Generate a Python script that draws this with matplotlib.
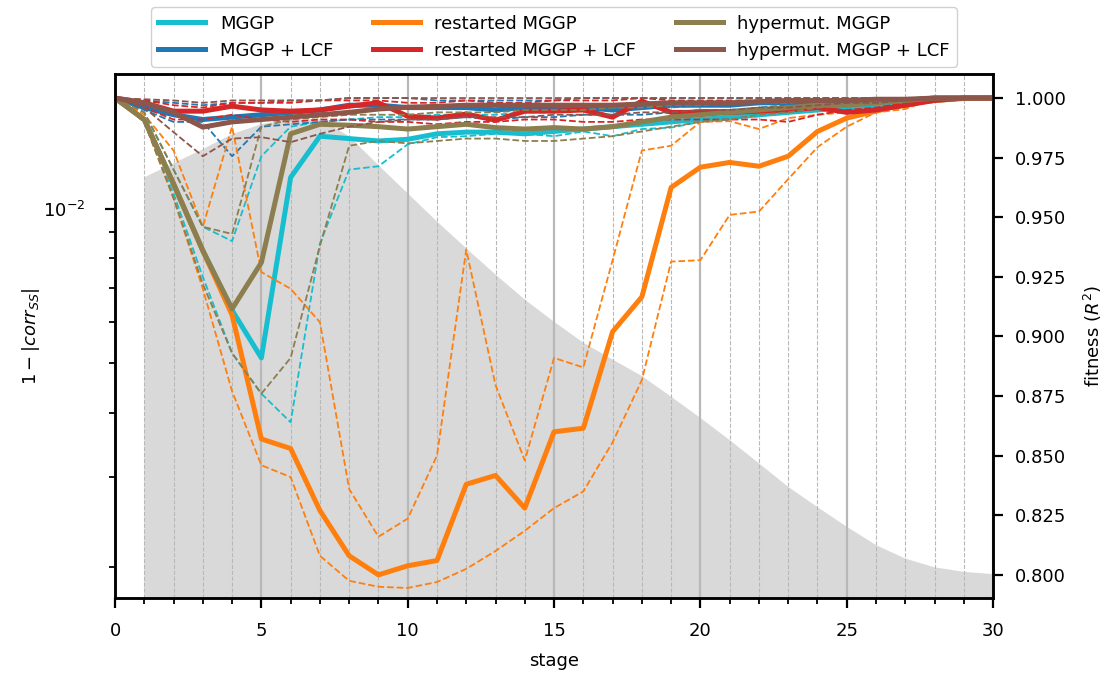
import numpy as np
import matplotlib
matplotlib.use("Agg")
import matplotlib.pyplot as plt
from matplotlib.ticker import MultipleLocator, FormatStrFormatter

plt.rcParams['font.family'] = ['DejaVu Sans']
plt.rcParams['font.size'] = 13

stages = np.arange(31)

# gray area: 1 - |corr_SS| (left, log axis), defined from stage 1 on
corr_stages = np.arange(1, 31)
corr_err = [0.01151, 0.01226, 0.01306, 0.01397, 0.01461, 0.01494, 0.01494, 0.01384,
            0.01215, 0.01071, 0.00944, 0.00837, 0.00744, 0.00665, 0.00602, 0.00548,
            0.00508, 0.00472, 0.00430, 0.00391, 0.00354, 0.00319, 0.00287, 0.00262,
            0.00240, 0.00221, 0.00208, 0.00200, 0.00196, 0.00194]

# fitness (R^2) per method: median, lower and upper quantile
mggp_med = [1.0, 0.991, 0.964, 0.936, 0.911, 0.891, 0.9667, 0.984, 0.983, 0.982, 0.9827, 0.985, 0.9857, 0.9857, 0.985, 0.986,
            0.987, 0.988, 0.989, 0.990, 0.991, 0.992, 0.993, 0.994, 0.995, 0.996, 0.997, 0.998, 0.999, 1.0, 1.0]
mggp_lo = [1.0, 0.990, 0.960, 0.925, 0.893, 0.876, 0.864, 0.939, 0.970, 0.9714, 0.9806, 0.9836, 0.984, 0.985, 0.985, 0.984,
           0.986, 0.984, 0.987, 0.9876, 0.990, 0.991, 0.9924, 0.994, 0.996, 0.997, 0.998, 0.999, 1.0, 1.0, 1.0]
mggp_hi = [1.0, 0.994, 0.970, 0.946, 0.940, 0.9756, 0.988, 0.990, 0.991, 0.992, 0.992, 0.993, 0.993, 0.993, 0.994, 0.994,
           0.995, 0.995, 0.996, 0.996, 0.997, 0.997, 0.998, 0.998, 0.999, 0.999, 1.0, 1.0, 1.0, 1.0, 1.0]

lcf_med = [1.0, 0.996, 0.993, 0.991, 0.992, 0.993, 0.994, 0.995, 0.997, 0.997, 0.996, 0.996, 0.996, 0.995, 0.996, 0.996,
           0.996, 0.995, 0.996, 0.997, 0.997, 0.997, 0.998, 0.998, 0.998, 0.999, 0.999, 0.999, 1.0, 1.0, 1.0]
lcf_lo = [1.0, 0.995, 0.990, 0.990, 0.9756, 0.988, 0.989, 0.990, 0.991, 0.991, 0.991, 0.991, 0.992, 0.991, 0.992, 0.992,
          0.993, 0.993, 0.993, 0.994, 0.995, 0.995, 0.996, 0.997, 0.998, 0.998, 0.999, 0.999, 1.0, 1.0, 1.0]
lcf_hi = [1.0, 0.999, 0.998, 0.997, 0.998, 0.998, 0.999, 0.999, 1.0, 1.0, 1.0, 0.999, 0.999, 0.999, 0.999, 0.999,
          1.0, 1.0, 1.0, 1.0, 1.0, 1.0, 1.0, 1.0, 1.0, 1.0, 1.0, 1.0, 1.0, 1.0, 1.0]

rst_med = [1.0, 0.991, 0.964, 0.936, 0.909, 0.857, 0.853, 0.827, 0.808, 0.800, 0.8038, 0.806, 0.838, 0.8417, 0.828, 0.860,
           0.8615, 0.902, 0.9166, 0.9625, 0.971, 0.973, 0.9714, 0.9756, 0.986, 0.9916, 0.9945, 0.9975, 0.999, 0.9998, 1.0]
rst_lo = [1.0, 0.990, 0.958, 0.920, 0.877, 0.846, 0.841, 0.808, 0.7975, 0.795, 0.7945, 0.797, 0.8025, 0.810, 0.8185, 0.828,
          0.835, 0.8556, 0.8817, 0.9314, 0.932, 0.951, 0.9524, 0.966, 0.9794, 0.988, 0.994, 0.9954, 1.0, 1.0, 1.0]
rst_hi = [1.0, 0.993, 0.978, 0.946, 0.988, 0.927, 0.920, 0.906, 0.836, 0.816, 0.8236, 0.850, 0.9364, 0.8796, 0.848, 0.891,
          0.887, 0.932, 0.978, 0.980, 0.990, 0.9903, 0.987, 0.9916, 0.993, 0.994, 0.995, 0.996, 0.999, 1.0, 1.0]

rlcf_med = [1.0, 0.998, 0.9945, 0.9945, 0.9966, 0.995, 0.9945, 0.995, 0.9966, 0.998, 0.9924, 0.9916, 0.9933, 0.9907, 0.9945, 0.9945,
            0.995, 0.992, 0.9987, 0.994, 0.994, 0.994, 0.9945, 0.995, 0.996, 0.994, 0.995, 0.997, 0.999, 1.0, 1.0]
rlcf_lo = [1.0, 0.996, 0.991, 0.991, 0.993, 0.991, 0.990, 0.991, 0.991, 0.990, 0.990, 0.989, 0.990, 0.990, 0.991, 0.991,
           0.990, 0.990, 0.991, 0.991, 0.991, 0.991, 0.991, 0.990, 0.993, 0.995, 0.996, 0.998, 0.999, 1.0, 1.0]
rlcf_hi = [1.0, 0.999, 0.997, 0.996, 0.998, 0.998, 0.998, 0.999, 0.999, 0.999, 0.998, 0.998, 0.999, 0.998, 0.998, 0.999,
           0.999, 0.999, 1.0, 0.999, 0.999, 0.999, 0.999, 0.999, 0.999, 0.999, 1.0, 1.0, 1.0, 1.0, 1.0]

hyp_med = [1.0, 0.991, 0.964, 0.936, 0.9116, 0.931, 0.985, 0.989, 0.9886, 0.988, 0.987, 0.988, 0.989, 0.9876, 0.987, 0.9876,
           0.987, 0.988, 0.990, 0.992, 0.993, 0.994, 0.995, 0.996, 0.997, 0.997, 0.998, 0.999, 1.0, 1.0, 1.0]
hyp_lo = [1.0, 0.990, 0.958, 0.922, 0.893, 0.876, 0.891, 0.938, 0.980, 0.982, 0.981, 0.982, 0.983, 0.983, 0.982, 0.982,
          0.983, 0.984, 0.986, 0.988, 0.990, 0.991, 0.993, 0.994, 0.996, 0.997, 0.998, 0.999, 1.0, 1.0, 1.0]
hyp_hi = [1.0, 0.994, 0.970, 0.946, 0.943, 0.988, 0.991, 0.992, 0.993, 0.993, 0.993, 0.994, 0.994, 0.994, 0.995, 0.995,
          0.995, 0.996, 0.996, 0.997, 0.997, 0.998, 0.998, 0.998, 0.999, 0.999, 1.0, 1.0, 1.0, 1.0, 1.0]

hlcf_med = [1.0, 0.998, 0.994, 0.9878, 0.990, 0.991, 0.992, 0.993, 0.994, 0.9954, 0.9962, 0.9965, 0.997, 0.997, 0.997, 0.997,
            0.997, 0.997, 0.9975, 0.998, 0.998, 0.998, 0.9985, 0.999, 0.999, 0.999, 0.9995, 0.9995, 1.0, 1.0, 1.0]
hlcf_lo = [1.0, 0.996, 0.9857, 0.9756, 0.983, 0.9836, 0.9815, 0.985, 0.988, 0.990, 0.991, 0.991, 0.992, 0.992, 0.992, 0.993,
           0.993, 0.993, 0.994, 0.994, 0.995, 0.995, 0.996, 0.996, 0.997, 0.998, 0.998, 0.999, 1.0, 1.0, 1.0]
hlcf_hi = [1.0, 0.9995, 0.999, 0.998, 0.999, 0.999, 0.999, 0.999, 1.0, 1.0, 1.0, 1.0, 1.0, 1.0, 1.0, 1.0,
           1.0, 1.0, 1.0, 1.0, 1.0, 1.0, 1.0, 1.0, 1.0, 1.0, 1.0, 1.0, 1.0, 1.0, 1.0]

methods = [
    ("MGGP", "#17becf", mggp_med, mggp_lo, mggp_hi),
    ("MGGP + LCF", "#1f77b4", lcf_med, lcf_lo, lcf_hi),
    ("restarted MGGP", "#ff7f0e", rst_med, rst_lo, rst_hi),
    ("restarted MGGP + LCF", "#d62728", rlcf_med, rlcf_lo, rlcf_hi),
    ("hypermut. MGGP", "#8c7e4e", hyp_med, hyp_lo, hyp_hi),
    ("hypermut. MGGP + LCF", "#8c564b", hlcf_med, hlcf_lo, hlcf_hi),
]

fig = plt.figure(figsize=(11.07, 6.75), dpi=100)
ax = fig.add_axes([0.1039, 0.1141, 0.7932, 0.7763])

# left axis: correlation error as gray area
ax.fill_between(corr_stages, 1e-4, corr_err, color="0.85", lw=0, zorder=1)
ax.set_yscale("log")
ax.set_ylim(0.001743, 0.01830)
ax.set_xlim(0, 30)
ax.set_ylabel(r"$1-|corr_{SS}|$", labelpad=1)
ax.set_xlabel("stage", labelpad=9)
ax.xaxis.set_major_locator(MultipleLocator(5))
ax.xaxis.set_minor_locator(MultipleLocator(1))
ax.grid(True, which="major", axis="x", color="0.72", lw=1.6)
ax.grid(True, which="minor", axis="x", color="0.72", lw=0.8, ls="--")
ax.grid(False, axis="y", which="both")

# right axis: fitness
ax2 = ax.twinx()
for label, c, med, lo, hi in methods:
    ax2.plot(stages, lo, color=c, lw=1.3, ls="--")
    ax2.plot(stages, hi, color=c, lw=1.3, ls="--")
    ax2.plot(stages, med, color=c, lw=3.6, label=label)
ax2.set_ylim(0.7903, 1.0101)
ax2.yaxis.set_major_locator(MultipleLocator(0.025))
ax2.yaxis.set_major_formatter(FormatStrFormatter("%.3f"))
ax2.set_ylabel(r"fitness ($R^2$)", labelpad=11)

for a in (ax, ax2):
    for s in a.spines.values():
        s.set_linewidth(1.8)
    a.tick_params(which="major", length=7, width=1.6, direction="out")
    a.tick_params(which="minor", length=4, width=1.3, direction="out")
ax.tick_params(axis="x", which="major", pad=10)
ax.tick_params(axis="y", which="major", pad=14)
ax2.tick_params(axis="y", which="major", pad=9)

ax2.legend(loc="lower center", bbox_to_anchor=(0.5, 1.0), ncol=3, fontsize=13,
           handlelength=2.6, columnspacing=2.2, borderaxespad=0.4, framealpha=0.9)

fig.savefig("out.png", dpi=100)
